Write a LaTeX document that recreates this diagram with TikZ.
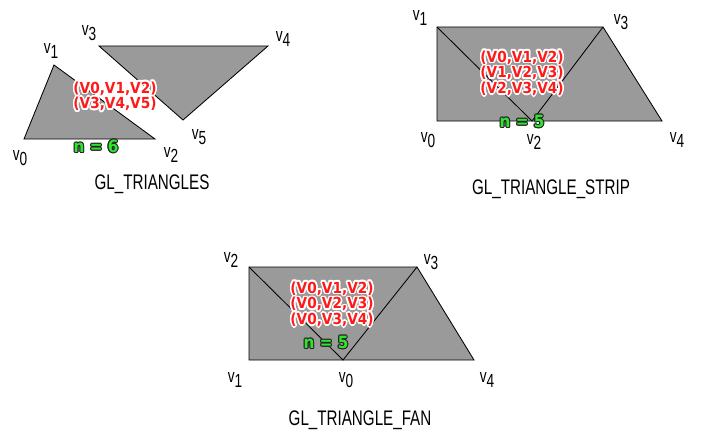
\documentclass[tikz,border=0pt]{standalone}
\usepackage{fontspec}
\setmainfont{Liberation Sans}[FakeStretch=0.72]
\newfontfamily\tagfont{DejaVu Sans}[FakeStretch=0.9]
\usepackage[copies]{contour}
\contourlength{1.2pt}
\contournumber{10}
\definecolor{trifill}{HTML}{9A9A9A}
\definecolor{tagred}{HTML}{FF1A1A}
\definecolor{countgreen}{HTML}{2EE62E}
\newcommand{\vtx}[1]{v\raisebox{-0.5ex}{#1}}
\newcommand{\tagline}[1]{\contour{white}{#1}}
\newcommand{\countline}[1]{{\contourlength{0.8pt}\contour{black!85}{#1}}}

\tikzset{
  vlabel/.style={font=\fontsize{13.5}{14}\selectfont, inner sep=0pt},
  title/.style={font=\fontsize{15}{16}\selectfont, inner sep=0pt},
  tris/.style={fill=trifill, draw=black, line width=0.6pt},
  tags/.style={text=tagred, font=\tagfont\bfseries\fontsize{10.8}{11.1}\selectfont, align=center, inner sep=0pt},
  count/.style={text=countgreen, font=\tagfont\bfseries\fontsize{12}{12}\selectfont, inner sep=0pt},
}

\begin{document}
\begin{tikzpicture}[x=0.025cm, y=-0.025cm]
	\useasboundingbox (0,0) rectangle (707,440);

	% GL_TRIANGLES
	\coordinate (a0) at (24,139);
	\coordinate (a1) at (54,65);
	\coordinate (a2) at (155,139);
	\coordinate (a3) at (99,46);
	\coordinate (a4) at (268,46);
	\coordinate (a5) at (183,120);
	\filldraw[tris] (a0) -- (a1) -- (a2) -- cycle;
	\filldraw[tris] (a3) -- (a4) -- (a5) -- cycle;
	\node[vlabel] (la0) at (20,158) {\vtx{0}};
	\node[vlabel] (la1) at (51,51) {\vtx{1}};
	\node[vlabel] (la2) at (171,155) {\vtx{2}};
	\node[vlabel] (la3) at (89,33) {\vtx{3}};
	\node[vlabel] (la4) at (283,39) {\vtx{4}};
	\node[vlabel] (la5) at (199,137) {\vtx{5}};
	\node[tags] (taga) at (115,97) {\tagline{(V0,V1,V2)}\\\tagline{(V3,V4,V5)}};
	\node[count] (cnta) at (96,147) {\countline{n = 6}};
	\node[title] (ttla) at (152,184) {GL\_TRIANGLES};

	% GL_TRIANGLE_STRIP
	\coordinate (b0) at (437,121);
	\coordinate (b1) at (437,27);
	\coordinate (b2) at (532,121);
	\coordinate (b3) at (603,27);
	\coordinate (b4) at (662,121);
	\filldraw[tris] (b0) -- (b1) -- (b3) -- (b4) -- cycle;
	\draw[line width=0.6pt] (b1) -- (b2) -- (b3);
	\node[vlabel] (lb0) at (428,140) {\vtx{0}};
	\node[vlabel] (lb1) at (420,18) {\vtx{1}};
	\node[vlabel] (lb2) at (534,142) {\vtx{2}};
	\node[vlabel] (lb3) at (621,22) {\vtx{3}};
	\node[vlabel] (lb4) at (677,140) {\vtx{4}};
	\node[tags] (tagb) at (522,74) {\tagline{(V0,V1,V2)}\\\tagline{(V1,V2,V3)}\\\tagline{(V2,V3,V4)}};
	\node[count] (cntb) at (522,122) {\countline{n = 5}};
	\node[title] (ttlb) at (551,189) {GL\_TRIANGLE\_STRIP};

	% GL_TRIANGLE_FAN
	\coordinate (c0) at (343,360);
	\coordinate (c1) at (249,360);
	\coordinate (c2) at (249,267);
	\coordinate (c3) at (417,267);
	\coordinate (c4) at (474,360);
	\filldraw[tris] (c1) -- (c2) -- (c3) -- (c4) -- cycle;
	\draw[line width=0.6pt] (c2) -- (c0) -- (c3);
	\node[vlabel] (lc0) at (346,380) {\vtx{0}};
	\node[vlabel] (lc1) at (235,380) {\vtx{1}};
	\node[vlabel] (lc2) at (231,260) {\vtx{2}};
	\node[vlabel] (lc3) at (431,262) {\vtx{3}};
	\node[vlabel] (lc4) at (487,380) {\vtx{4}};
	\node[tags] (tagc) at (332,305) {\tagline{(V0,V1,V2)}\\\tagline{(V0,V2,V3)}\\\tagline{(V0,V3,V4)}};
	\node[count] (cntc) at (326,343) {\countline{n = 5}};
	\node[title] (ttlc) at (360,420) {GL\_TRIANGLE\_FAN};
\end{tikzpicture}
\end{document}
